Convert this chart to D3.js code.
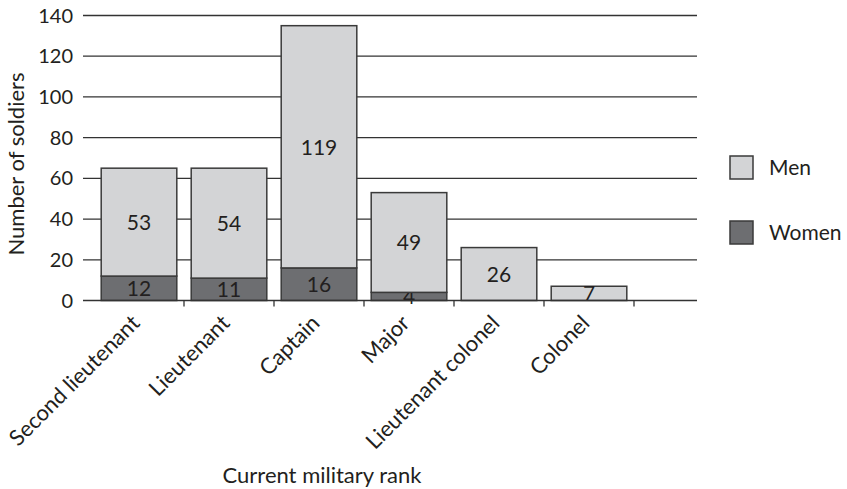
<!DOCTYPE html>
<html lang="en">
  <head>
    <meta charset="UTF-8" />
    <title>Soldiers by current military rank</title>
    <script src="https://d3js.org/d3.v7.min.js"></script>
    <style>
      body {
        margin: 0;
        background-color: white;
        font-family: Lato, "Open Sans", sans-serif;
      }
      svg text {
        fill: #231f20;
      }
    </style>
  </head>
  <body>
    <svg width="847" height="489"></svg>

    <script>
      const ranks = [
        "Second lieutenant",
        "Lieutenant",
        "Captain",
        "Major",
        "Lieutenant colonel",
        "Colonel",
      ];
      const women = [12, 11, 16, 4, 0, 0];
      const men = [53, 54, 119, 49, 26, 7];
      const yTicks = [0, 20, 40, 60, 80, 100, 120, 140];
      const seriesNames = ["Men", "Women"];

      const svg = d3.select("svg");
      const colors = { Men: "#d3d4d6", Women: "#6d6e71" };

      const plotLeft = 83;
      const plotRight = 697;

      const x = d3.scaleBand().domain(ranks).range([94, 634]).paddingInner(0.16).paddingOuter(0.08);
      const y = d3.scaleLinear().domain([0, 140]).range([300.5, 15.5]);

      // gridlines
      svg
        .append("g")
        .selectAll("line")
        .data(yTicks.slice(1))
        .join("line")
        .attr("x1", plotLeft)
        .attr("x2", plotRight)
        .attr("y1", (d) => y(d))
        .attr("y2", (d) => y(d))
        .attr("stroke", "#333")
        .attr("stroke-width", 1.3);

      // y tick labels
      svg
        .append("g")
        .selectAll("text")
        .data(yTicks)
        .join("text")
        .attr("x", 73)
        .attr("y", (d) => y(d) + 7)
        .attr("text-anchor", "end")
        .style("font-size", "20px")
        .text((d) => d);

      // stacked bars
      const rows = ranks.map((r, i) => ({ rank: r, Women: women[i], Men: men[i] }));
      const stacked = d3.stack().keys(["Women", "Men"])(rows);

      const layers = svg
        .append("g")
        .selectAll("g")
        .data(stacked)
        .join("g")
        .attr("fill", (d) => colors[d.key]);

      layers
        .selectAll("rect")
        .data((d) => d.filter((s) => s[1] - s[0] > 0))
        .join("rect")
        .attr("x", (d) => x(d.data.rank))
        .attr("width", x.bandwidth())
        .attr("y", (d) => y(d[1]))
        .attr("height", (d) => y(d[0]) - y(d[1]))
        .attr("stroke", "#3a3a3a")
        .attr("stroke-width", 1.5);

      // value labels
      layers
        .selectAll("text")
        .data((d) => d.filter((s) => s[1] - s[0] > 0))
        .join("text")
        .attr("x", (d) => x(d.data.rank) + x.bandwidth() / 2)
        .attr("y", (d) => (y(d[0]) + y(d[1])) / 2 + 8)
        .attr("text-anchor", "middle")
        .style("font-size", "21px")
        .style("fill", "#231f20")
        .text((d) => d[1] - d[0]);

      // x axis line and ticks
      svg
        .append("line")
        .attr("x1", plotLeft)
        .attr("x2", plotRight)
        .attr("y1", y(0))
        .attr("y2", y(0))
        .attr("stroke", "#333")
        .attr("stroke-width", 1.5);

      const step = x.step();
      svg
        .append("g")
        .selectAll("line")
        .data(ranks)
        .join("line")
        .attr("x1", (d) => x(d) + x.bandwidth() + (step - x.bandwidth()) / 2)
        .attr("x2", (d) => x(d) + x.bandwidth() + (step - x.bandwidth()) / 2)
        .attr("y1", y(0))
        .attr("y2", y(0) + 6)
        .attr("stroke", "#333")
        .attr("stroke-width", 1.3);

      // category labels
      svg
        .append("g")
        .selectAll("text")
        .data(ranks)
        .join("text")
        .attr("text-anchor", "end")
        .attr("transform", (d) => `translate(${x(d) + x.bandwidth() / 2 + 2},${y(0) + 24}) rotate(-45)`)
        .style("font-size", "22px")
        .text((d) => d);

      // axis titles
      svg
        .append("text")
        .attr("transform", "translate(24,164) rotate(-90)")
        .attr("text-anchor", "middle")
        .style("font-size", "22px")
        .text("Number of soldiers");

      svg
        .append("text")
        .attr("x", 322)
        .attr("y", 483)
        .attr("text-anchor", "middle")
        .style("font-size", "22px")
        .text("Current military rank");

      // legend
      const legend = svg
        .append("g")
        .selectAll("g")
        .data(seriesNames)
        .join("g")
        .attr("transform", (d, i) => `translate(730,${156 + i * 65})`);

      legend
        .append("rect")
        .attr("width", 23)
        .attr("height", 23)
        .attr("fill", (d) => colors[d])
        .attr("stroke", "#3a3a3a")
        .attr("stroke-width", 1.5);

      legend
        .append("text")
        .attr("x", 39)
        .attr("y", 19)
        .style("font-size", "21px")
        .text((d) => d);
    </script>
  </body>
</html>
